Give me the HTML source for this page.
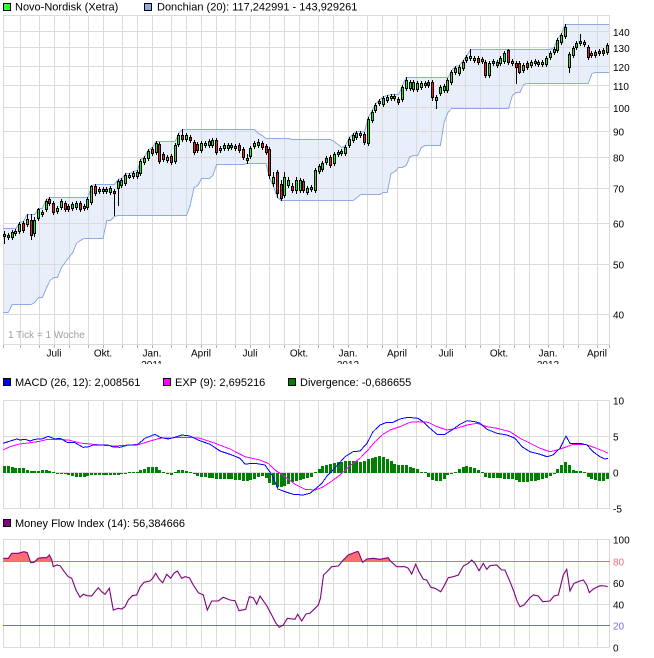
<!DOCTYPE html>
<html><head><meta charset="utf-8"><style>
html,body{margin:0;padding:0;background:#fff;}
svg{display:block;}
text{font-family:"Liberation Sans",Arial,sans-serif;}
</style></head><body>
<svg id="s" xmlns="http://www.w3.org/2000/svg" width="654" height="658" viewBox="0 0 654 658">
<defs>
<clipPath id="yc"><rect x="0" y="340" width="654" height="24"/></clipPath>
<clipPath id="mfic"><rect x="0" y="530" width="654" height="31.3"/></clipPath>
</defs>
<rect x="0" y="0" width="654" height="658" fill="#fff"/>
<g id="band"></g>
<g id="grid" shape-rendering="crispEdges"></g>
<g id="bandl" shape-rendering="crispEdges"></g>
<g id="candles" shape-rendering="crispEdges"></g>
<g id="macd" shape-rendering="crispEdges"></g>
<g id="mfi"></g>

<!-- legends -->
<g font-size="11" fill="#000">
<rect x="3.5" y="3.5" width="7" height="7" fill="#33ff33" stroke="#000"/>
<text x="15" y="10.5">Novo-Nordisk (Xetra)</text>
<rect x="144.5" y="3.5" width="7" height="7" fill="#8faadc" stroke="#000"/>
<text x="157" y="10.5">Donchian (20): 117,242991 - 143,929261</text>

<rect x="3.5" y="378.5" width="7" height="7" fill="#0000ff" stroke="#000"/>
<text x="15" y="386">MACD (26, 12): 2,008561</text>
<rect x="163.5" y="378.5" width="7" height="7" fill="#ff00ff" stroke="#000"/>
<text x="175" y="386">EXP (9): 2,695216</text>
<rect x="288.5" y="378.5" width="7" height="7" fill="#008000" stroke="#000"/>
<text x="300" y="386">Divergence: -0,686655</text>

<rect x="3.5" y="519.5" width="7" height="7" fill="#800080" stroke="#000"/>
<text x="15" y="527">Money Flow Index (14): 56,384666</text>
</g>

<!-- main y labels -->
<g font-size="10" fill="#000">
<text x="613" y="36">140</text>
<text x="613" y="52">130</text>
<text x="613" y="71">120</text>
<text x="613" y="90">110</text>
<text x="613" y="112">100</text>
<text x="613" y="135.5">90</text>
<text x="613" y="161.5">80</text>
<text x="613" y="192.5">70</text>
<text x="613" y="227.5">60</text>
<text x="613" y="268.5">50</text>
<text x="613" y="318.5">40</text>
<text x="8" y="338" fill="#a0a0a0">1 Tick = 1 Woche</text>
</g>
<!-- month labels -->
<g font-size="10" fill="#000" text-anchor="middle">
<text x="54" y="356.5">Juli</text>
<text x="103" y="356.5">Okt.</text>
<text x="152" y="356.5">Jan.</text>
<text x="201" y="356.5">April</text>
<text x="250" y="356.5">Juli</text>
<text x="299" y="356.5">Okt.</text>
<text x="348" y="356.5">Jan.</text>
<text x="397" y="356.5">April</text>
<text x="446" y="356.5">Juli</text>
<text x="499" y="356.5">Okt.</text>
<text x="548" y="356.5">Jan.</text>
<text x="597" y="356.5">April</text>
<g clip-path="url(#yc)">
<text x="152" y="368">2011</text>
<text x="348" y="368">2012</text>
<text x="548" y="368">2013</text>
</g>
</g>
<!-- MACD labels -->
<g font-size="10" fill="#000">
<text x="613" y="404.5">10</text>
<text x="613" y="440.5">5</text>
<text x="613" y="476.5">0</text>
<text x="613" y="512.5">-5</text>
</g>
<!-- MFI labels -->
<g font-size="10" fill="#000">
<text x="613" y="543.5">100</text>
<text x="613" y="565.5" fill="#f07070">80</text>
<text x="613" y="587">60</text>
<text x="613" y="608.5">40</text>
<text x="613" y="629.5" fill="#7070f0">20</text>
<text x="613" y="651.5">0</text>
</g>
</svg>
<script>
(function(){
var NS='http://www.w3.org/2000/svg';
function el(tag,a,p){var e=document.createElementNS(NS,tag);for(var k in a)e.setAttribute(k,a[k]);p.appendChild(e);return e;}
var G=function(id){return document.getElementById(id);};
var grid=G('grid');
var VX=[3,20,39,54,69,88,103,122,137,152,171,186,201,216,235,250,269,284,299,318,333,348,367,382,397,416,431,446,465,480,499,514,529,548,563,578,597,609];
var GC='#dadada';
function hl(y,x1,x2,c){el('rect',{x:x1,y:y,width:x2-x1+1,height:1,fill:c||GC},grid);}
function vl(x,y1,y2,c){el('rect',{x:x,y:y1,width:1,height:y2-y1+1,fill:c||GC},grid);}
// main panel
[15,31,47,66,85,107,131,157,188,223,264,314,344].forEach(function(y){hl(y,3,609);});
VX.forEach(function(x){vl(x,15,344);});
VX.forEach(function(x){vl(x,345,347,'#b0b0b0');});
// macd panel
[400,436,472,508].forEach(function(y){hl(y,3,609);});
VX.forEach(function(x){vl(x,400,508);});
// mfi panel
[539,583,604,647].forEach(function(y){hl(y,3,609);});
VX.forEach(function(x){vl(x,539,647);});
hl(561,3,609,'#f06868');
hl(625,3,609,'#6868f0');

// candles: [top,bottom,color,hi,lo]
var C=[[234,236,'g',231,243],[235,237,'g',233,239],[232,237,'g',230,239],[231,233,'g',229,235],[224,231,'g',222,233],[223,230,'r',221,232],[219,224,'g',214,226],[220,235,'r',214,239],[220,233,'g',217,236],[209,218,'g',208,220],
[212,214,'g',210,216],[201,209,'g',199,211],[199,203,'r',197,205],[203,212,'r',201,214],[208,211,'g',206,213],[201,207,'g',199,209],[203,209,'r',201,211],[206,209,'r',204,211],[204,208,'g',202,210],[203,207,'g',201,209],
[203,209,'r',201,211],[206,208,'g',204,210],[199,207,'g',197,209],[186,202,'g',185,204],[186,193,'r',184,195],[189,191,'g',187,193],[189,191,'g',187,193],[189,191,'g',187,193],[188,192,'g',186,194],[191,193,'r',189,215],
[181,188,'g',179,205],[180,185,'g',178,187],[175,183,'g',173,185],[175,177,'g',173,178],[173,176,'g',171,178],[172,176,'g',170,178],[161,173,'g',159,175],[158,162,'g',156,164],[151,158,'g',149,160],[149,153,'r',147,155],
[143,152,'g',141,154],[144,161,'r',142,163],[154,159,'r',152,161],[157,160,'g',155,162],[156,162,'r',154,164],[145,161,'g',143,163],[135,144,'g',133,146],[135,139,'r',129,141],[135,139,'g',133,141],[137,140,'r',135,142],
[142,152,'r',140,154],[144,150,'r',142,152],[143,150,'g',141,152],[143,145,'g',141,147],[141,145,'g',139,147],[140,145,'g',138,147],[140,152,'r',138,154],[148,150,'g',146,152],[145,148,'g',143,150],[145,148,'g',143,150],
[145,147,'g',143,149],[146,148,'g',144,150],[145,150,'r',143,152],[149,157,'r',147,159],[158,160,'g',154,163],[148,156,'g',146,158],[143,146,'g',141,148],[142,145,'g',139,147],[143,147,'r',141,149],[146,152,'r',144,154],
[149,175,'r',147,178],[177,183,'g',172,186],[172,193,'r',170,197],[184,198,'r',180,200],[177,195,'g',172,197],[180,185,'g',177,187],[186,190,'r',183,192],[180,190,'g',177,193],[180,190,'g',178,192],[181,190,'r',179,192],
[188,192,'g',186,194],[187,189,'g',185,191],[170,190,'g',168,192],[166,171,'g',164,173],[163,169,'g',161,171],[158,162,'g',156,164],[157,165,'r',155,167],[154,163,'g',152,165],[152,154,'g',150,156],[151,153,'g',149,155],
[147,153,'g',145,155],[139,145,'g',137,147],[135,140,'g',133,142],[133,137,'g',131,139],[133,135,'g',131,137],[134,142,'r',132,144],[119,143,'g',117,145],[112,120,'g',110,122],[105,110,'g',103,112],[101,103,'g',99,105],
[98,104,'g',96,106],[97,100,'g',95,102],[96,98,'g',94,100],[96,98,'g',94,100],[99,102,'r',97,104],[87,99,'g',85,101],[80,88,'g',77,90],[82,88,'g',80,90],[82,89,'g',80,91],[83,89,'g',81,91],
[83,87,'g',81,89],[83,85,'g',81,87],[82,85,'r',80,87],[82,97,'r',80,100],[97,100,'g',95,108],[87,93,'g',85,95],[86,90,'g',84,92],[80,90,'g',78,92],[72,82,'g',70,84],[68,72,'g',66,74],
[67,73,'g',65,75],[62,68,'g',60,70],[57,60,'g',55,62],[56,58,'g',49,60],[58,60,'g',56,62],[58,62,'r',56,64],[59,61,'g',57,63],[62,75,'r',60,77],[63,75,'g',61,77],[61,63,'g',59,65],
[62,65,'g',60,67],[58,63,'g',56,65],[53,61,'g',51,63],[50,62,'r',49,64],[61,63,'g',59,65],[63,67,'r',61,83],[63,72,'r',61,73],[65,70,'g',63,72],[63,67,'r',61,69],[62,65,'g',60,67],
[61,63,'g',59,65],[62,64,'g',60,66],[62,64,'g',60,66],[58,64,'g',56,66],[53,57,'g',51,59],[49,52,'g',47,54],[40,50,'g',38,52],[35,42,'g',33,44],[27,36,'g',24,38],[54,67,'g',52,72],
[48,55,'g',46,57],[43,47,'g',41,49],[41,43,'g',34,45],[42,44,'g',40,46],[47,57,'r',45,59],[53,55,'g',51,57],[52,55,'r',50,57],[51,53,'g',49,55],[50,53,'r',48,55],[45,52,'g',43,54]];
var X=function(i){return 4.5+3.79*i;};
var N=C.length;
var lowOv=[312,312,304,304,304,304,304,304,302,297,297,288,280,277,277,267,262,257,252,243,240,238,238,238,238,238,238,220,220];
var up=[],lo=[];
for(var i=0;i<N;i++){
  var u=1e9,l=-1e9;
  for(var j=Math.max(0,i-19);j<=i;j++){u=Math.min(u,C[j][3]);l=Math.max(l,C[j][4]);}
  if(i<20)u=Math.min(u,228);
  if(i<lowOv.length)l=lowOv[i];
  up.push(u);lo.push(l);
}
var pu=[[3,up[0]]],pl=[[3,lo[0]]];
for(i=0;i<N;i++){pu.push([X(i),up[i]]);pl.push([X(i),lo[i]]);}
pu.push([609,up[N-1]]);pl.push([609,lo[N-1]]);
var poly=pu.concat(pl.slice().reverse()).map(function(p){return p[0].toFixed(1)+','+(p[1]+0.5);}).join(' ');
el('polygon',{points:poly,fill:'#e8effb',stroke:'none'},G('band'));
var str=function(a){return a.map(function(p){return p[0].toFixed(1)+','+(p[1]+0.5);}).join(' ');};
el('polyline',{points:str(pu),fill:'none',stroke:'#8eaae0','stroke-width':1},G('bandl'));
el('polyline',{points:str(pl),fill:'none',stroke:'#8eaae0','stroke-width':1},G('bandl'));
var cg=G('candles');
for(i=0;i<N;i++){
  var c=C[i],xl=Math.round(X(i)-1.5);
  el('rect',{x:xl+1,y:c[3],width:1,height:c[4]-c[3]+1,fill:'#000'},cg);
  var h=c[1]-c[0]+1;
  el('rect',{x:xl,y:c[0],width:3,height:h,fill:'#000'},cg);
  if(h>2)el('rect',{x:xl+1,y:c[0]+1,width:1,height:h-2,fill:c[2]=='g'?'#1fe81f':'#ee2020'},cg);
}
// MACD histogram
var HK=[[3.3,-7.3],[6.7,-7.3],[10,-6.3],[14.3,-5.7],[18.3,-5],[22.7,-4.7],[26,-4],[30,-2],[33.3,-1.3],[37.3,-2],[41,-2.3],[45,-3.3],[48.7,-3.3],[52.7,-0.7],[56.7,0],[60,0.3],[64,1],[67.7,2],[71.3,2.7],[75.3,3.3],[79,4],[82.7,3.7],[86.7,3.3],[90.7,1.7],[94.3,1.7],[98,1.7],[102,1.7],[106,1.7],[110,2],[113.3,2.3],[117.3,1.7],[121,1],[125,0.3],[128.7,-0.7],[132.7,-0.7],[136.7,-1.3],[140,-2.3],[144,-4],[147.7,-5.7],[151.7,-6.3],[155.3,-6.3],[159,-4],[163,-1.7],[166.7,1],[170.7,2],[174.3,-0.7],[178,-2.3],[182,-3.3],[185.7,-2.3],[189.7,-0.7],[193.3,1],[197,2.7],[200.7,3.3],[204.7,4.3],[208.3,4.7],[212,5],[216,6],[219.7,6],[223.3,6],[227.3,6],[231,6],[234.7,6.7],[238.7,7],[242.3,7.7],[246,8.3],[250,7.7],[253.7,6],[257.3,4.7],[261.3,3.7],[265,2.7],[268.7,10],[272.7,11],[276.3,13.3],[280.3,14.3],[284,13.3],[287.7,12],[291.7,9.3],[295.3,8.7],[299.3,7.7],[303,6.7],[307,5.3],[310.7,4.3],[315,0],[318.3,-3.3],[322,-6.3],[326,-8],[329.3,-8.3],
[331.7,-9.7],[335,-10.7],[339,-10.7],[342.7,-11.3],[346.7,-12.3],[350,-12.3],[354,-12.3],[357.7,-12.3],[361.7,-10.7],[365.7,-12.3],[369.3,-14.7],[373.3,-15.7],[377.3,-16.7],[380.7,-16.7],[384.7,-15.7],[388.3,-13.3],[392,-11.3],[396,-8.3],[400,-8.3],[403.3,-8.3],[407.3,-8.3],[411,-5],[414.7,-4.7],[418.7,-3.3],[422.3,-0.7],[426.3,0],[430,6],[433.7,7.7],[437.3,8.3],[441,7.7],[444.7,5.3],[448.7,1.7],[452.3,0.3],[456.3,-0.7],[460,-4.7],[464,-6.3],[467.7,-7.3],[471.3,-6.3],[475,-4.7],[479,-2.3],[482.7,0],[486.7,5.3],[490.3,5.3],[494,5.3],[498,5.3],[501.7,5.3],[505.3,6],[509.3,6],[513,6],[516.7,7.7],[520.7,8.7],[524.3,9.3],[528,8.7],[532,8.3],[535.7,7.7],[539.7,6.7],[543.3,6],[547,4.3],[551,2.7],[554.7,0],[558.7,-5],[562.3,-8.3],[566,-11.7],[570,-7.3],[573.7,-2.3],[577.3,-2.3],[581.3,-1.7],[585,0],[588.7,4.3],[592.7,6],[596.3,7.7],[600.3,7.7],[604,7.7],[607.7,6]];
function interp(K,x){if(x<=K[0][0])return K[0][1];for(var k=1;k<K.length;k++){if(x<=K[k][0]){var a=K[k-1],b=K[k];return a[1]+(b[1]-a[1])*(x-a[0])/(b[0]-a[0]);}}return K[K.length-1][1];}
var mg=G('macd');
for(i=0;i<N;i++){
  var d=interp(HK,X(i)),xl2=Math.round(X(i)-1.5);
  var hh=Math.max(1,Math.round(Math.abs(d)));
  el('rect',{x:xl2,y:d<0?473-hh:473,width:3,height:hh,fill:'#008000'},mg);
}
var BL=[[3,443.3],[8,441.7],[17,439],[20,440],[25,439.3],[30,441],[35,439.3],[42,439],[48,436.3],[55,439],[60,438.3],[67,442.3],[75,442.7],[83,447.3],[88,447],[93,445],[108,445],[113,447],[120,447.3],[128,445],[137,445],[145,438.3],[155,434.3],[160,437.3],[168,439],[175,437.3],[182,435],[190,436],[198,440],[210,444.3],[220,451],[232,455],[240,458.3],[245,464],[255,463.3],[265,465],[272,475],[278,489],[283,491],[293,494.3],[303,495],[310,493.3],[318,486.7],[322,483],[327,476],[337,465.7],[345,456.7],[353,451.7],[360,451],[367,443.3],[373,431.7],[380,425],[387,422.3],[393,422.3],[400,419],[408,417.3],[418,418.3],[423,421.7],[430,428.3],[437,434.3],[445,434.3],[453,429.3],[460,424.3],[467,420.7],[475,421.7],[480,423.3],[487,429.3],[497,433.3],[507,435],[515,438.3],[522,446.7],[530,451.7],[540,454.3],[547,456.7],[553,455],[560,448.3],[566,436],[570,443.3],[580,443.3],[587,445],[593,451.7],[600,456.7],[605,459],[608,458.3]];
var MG=[[3,450],[10,446.7],[18,444.3],[30,442.7],[40,441.3],[48,439.3],[60,439.3],[70,440.3],[80,443],[100,445],[115,446],[130,445],[140,444.3],[150,441],[160,438.3],[175,437.7],[190,437.3],[200,438.3],[215,443.3],[230,449],[245,456.7],[260,460],[268,463.3],[275,470],[285,476.7],[295,484.3],[305,489.3],[315,490],[322,487.5],[330,482.3],[340,475],[350,465.7],[360,458.3],[368,450],[375,441.7],[383,434.3],[390,430],[400,426.7],[410,422.3],[418,421.7],[428,422.3],[437,426.7],[447,430],[457,428.3],[467,425],[477,423.3],[487,426.7],[497,428.3],[510,431.7],[520,438.3],[530,443.3],[540,448.3],[550,451.7],[557,450],[567,446.7],[573,444.3],[585,444.3],[595,447.7],[605,451.7],[608,453.3]];
function pts(a){return a.map(function(p){return p[0]+','+p[1];}).join(' ');}
el('polyline',{points:pts(MG),fill:'none',stroke:'#ff00ff','stroke-width':1},mg);
el('polyline',{points:pts(BL),fill:'none',stroke:'#0000ff','stroke-width':1},mg);
// MFI
var MF=[[3.3,558.3],[8.3,558.3],[11.7,553.3],[18.3,553.3],[21.7,552.3],[24,551.7],[27.3,552.7],[30.7,562.7],[34,562.3],[38.3,558.3],[41.7,557.7],[46.7,557.7],[49.3,555],[51.7,559.3],[53.3,566.7],[56.7,565],[60,565.7],[64.3,571.7],[68.3,576.7],[71.7,578.3],[76,590],[80,597.3],[83.3,594.3],[87.3,595.7],[91.7,596],[95,591.7],[98.3,587.7],[101.7,591.7],[105,594.3],[109.3,588.3],[113.3,610],[118.3,608.3],[121.7,609],[125,606.7],[128.3,600],[132.3,595.7],[136.7,595],[140,587.3],[144,582.3],[150,581],[152.7,578.3],[155.7,573.3],[159.3,579.3],[162.7,582.7],[166.7,574.3],[170.7,578.3],[174,573.3],[177.3,571],[181.7,578.3],[185,576.7],[189.3,577.7],[193.3,585],[198.3,592.7],[203.3,595],[207.3,610],[211.7,601],[218.3,601],[223.3,597.3],[230,600],[235,600.7],[239,610.7],[245.7,609.3],[249.3,596.7],[253.3,597.7],[256.7,604.3],[260,596],[266.7,605.7],[271.7,615],[276,623.3],[279.3,627.3],[283.3,625],[287.3,618.3],[295,619.3],[297.7,614.3],[301.7,621],[306,614],[310,613.3],[315,608.3],[318.3,605],[320.5,598],[323.5,575],[326.7,572],[331.7,566.7],[338.3,566],[343.3,560],[348.3,555],[356.7,551.7],[358.3,551.7],[362.7,562.3],[366.7,559],[373.3,558.3],[380,559.3],[385,558.3],[388.3,557.7],[390,560.7],[396.7,566.7],[405,566.7],[408.3,568.3],[411.7,574],[415.7,564.3],[419,571.7],[423.3,579.3],[426.7,580],[430.7,587.3],[435,588.3],[440.7,591.7],[443.3,587.3],[448.3,577.7],[453.3,576.7],[458.3,575],[463.3,566],[468.3,563.3],[471.7,560],[475,563.3],[479,570.7],[483.3,563.3],[486.7,569.3],[490,565.7],[496.7,565],[501.7,570],[505,570],[510,581.7],[513.3,590],[517.3,601.7],[520,606.7],[524,605],[530,597.7],[533.3,595],[538.3,596],[542.7,601.7],[550,601],[554,596],[558.3,595],[563.3,575],[566.7,569.3],[570,591],[574,583.3],[580,581],[583.3,580],[586.7,585],[589.3,592.7],[593.3,589],[600,585.7],[605,586],[607.7,586.7]];
var fg=G('mfi');
var fp=MF.concat([[607.7,561.5],[3.3,561.5]]);
el('polygon',{points:pts(fp),fill:'#ff6e6e',stroke:'none','clip-path':'url(#mfic)'},fg);
el('polyline',{points:pts(MF),fill:'none',stroke:'#800080','stroke-width':1.1},fg);
})();
</script>
</body></html>
